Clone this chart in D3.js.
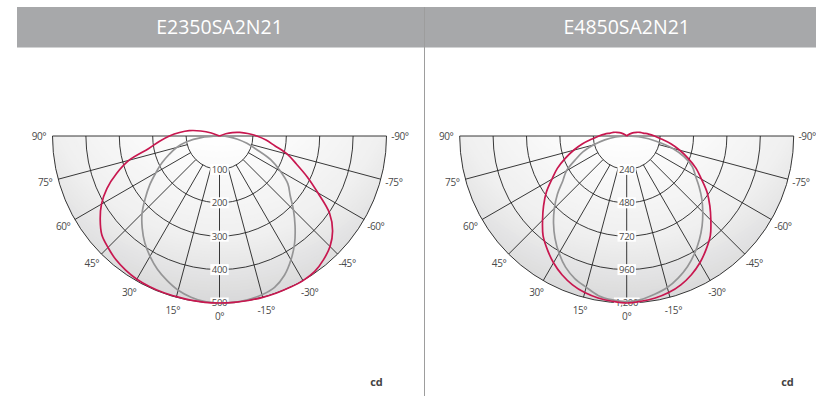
<!DOCTYPE html>
<html>
<head>
<meta charset="utf-8">
<script src="https://cdn.jsdelivr.net/npm/d3@7"></script>
<style>
  html, body { margin: 0; padding: 0; background: #fff; }
  svg { display: block; }
</style>
</head>
<body>
<svg id="chart" width="816" height="396"></svg>
<script>
// ---- Panel titles and axis labels ----
const titles = ["E2350SA2N21", "E4850SA2N21"];
const angleTicks = [90, 75, 60, 45, 30, 15, 0, -15, -30, -45, -60, -75, -90];
const ticks1 = [100, 200, 300, 400, 500];
const tickLabels1 = ["100", "200", "300", "400", "500"];
const ticks2 = [240, 480, 720, 960, 1200];
const tickLabels2 = ["240", "480", "720", "960", "1,200"];
const unitLabel = "cd";

// ---- Luminous intensity (cd) by angle from nadir, degrees ----
// Panel 1: E2350SA2N21
const angles1 = [0, 5, 10, 15, 20, 25, 30, 35, 40, 45, 50, 55, 60, 65, 70, 75, 80, 85, 90, 95, 100, 105, 110, 115, 120];
const crimsonLeft1  = [500, 500, 499, 498, 498, 497, 495, 490, 483, 472, 460, 436, 408, 372, 328, 280, 215, 180, 150, 120, 92, 58, 26, 0, 0];
const crimsonRight1 = [500, 500, 500, 500, 500, 500, 500, 496, 484, 468, 442, 402, 340, 290, 245, 210, 168, 140, 112, 85, 62, 40, 20, 0, 0];
const greyLeft1     = [500, 498, 490, 478, 460, 440, 416, 390, 360, 328, 290, 255, 220, 190, 160, 133, 100, 55, 0];
const greyRight1    = [500, 500, 497, 492, 482, 460, 428, 392, 352, 313, 276, 250, 210, 170, 118, 85, 55, 28, 0];

// Panel 2: E4850SA2N21
const angles2 = [0, 5, 10, 15, 20, 25, 30, 35, 40, 45, 50, 55, 60, 65, 70, 75, 80, 85, 90, 95, 100, 105, 110, 115, 120, 125, 130];
const crimsonLeft2  = [1200, 1192, 1182, 1165, 1138, 1100, 1052, 995, 935, 855, 780, 705, 620, 550, 470, 395, 322, 250, 200, 158, 120, 100, 78, 58, 38, 18, 0];
const crimsonRight2 = [1200, 1192, 1182, 1165, 1138, 1100, 1052, 995, 935, 855, 780, 705, 620, 550, 470, 395, 322, 250, 200, 158, 120, 100, 78, 58, 38, 18, 0];
const greyLeft2     = [1190, 1182, 1165, 1125, 1090, 1040, 972, 898, 818, 735, 650, 560, 500, 410, 335, 245, 160, 80, 0];
const greyRight2    = [1190, 1180, 1155, 1127, 1085, 1035, 975, 910, 843, 773, 705, 635, 570, 520, 440, 340, 215, 105, 0];

const CRIMSON = "#c8174f";
const GREY = "#959596";
const GRID = "#222";
const LABEL = "#4a4a4a";

const svg = d3.select("#chart");
const defs = svg.append("defs");

// Header bars
svg.append("rect").attr("x", 17).attr("y", 7).attr("width", 407).attr("height", 40).attr("fill", "#a7a8aa");
svg.append("rect").attr("x", 425).attr("y", 7).attr("width", 391).attr("height", 40).attr("fill", "#a7a8aa");
svg.append("line").attr("x1", 17).attr("x2", 816).attr("y1", 47.5).attr("y2", 47.5)
  .attr("stroke", "#d2d3d4").attr("stroke-width", 1);
// Divider between the panels
svg.append("line").attr("x1", 424.5).attr("x2", 424.5).attr("y1", 7).attr("y2", 396)
  .attr("stroke", "#9d9d9d").attr("stroke-width", 1);

const panels = [
  { title: titles[0], cx: 219.5, cy: 136, R: 167, max: 500, ticks: ticks1, tickLabels: tickLabels1,
    angles: angles1, series: [
      { left: greyLeft1, right: greyRight1, color: GREY },
      { left: crimsonLeft1, right: crimsonRight1, color: CRIMSON }
    ], unitX: 376.5 },
  { title: titles[1], cx: 626.7, cy: 136, R: 167, max: 1200, ticks: ticks2, tickLabels: tickLabels2,
    angles: angles2, series: [
      { left: greyLeft2, right: greyRight2, color: GREY },
      { left: crimsonLeft2, right: crimsonRight2, color: CRIMSON }
    ], unitX: 787.5 }
];

const rad = d => d * Math.PI / 180;
// shading: lit from above the diameter, greying toward the lower rim
const lightOffset = 0.45;   // light centre above the pole, in radii
const shade = d3.scaleLinear().domain([0, 0.31, 0.756, 1]).range(["#ffffff", "#ffffff", "#efefef", "#d9d9da"]).clamp(true);

panels.forEach((p, i) => {
  // title
  svg.append("text")
    .attr("x", p.cx).attr("y", 33.5)
    .attr("text-anchor", "middle")
    .attr("font-family", "'Open Sans', 'Noto Sans', sans-serif")
    .attr("font-size", 19.5)
    .attr("font-weight", 500)
    .attr("fill", "#fff")
    .text(p.title);

  const g = svg.append("g").attr("transform", `translate(${p.cx},${p.cy})`);
  const r = d3.scaleLinear().domain([0, p.max]).range([0, p.R]);

  // shaded half disc: nested circles clipped to the lower half
  const halfDisc = d3.arc().innerRadius(0).outerRadius(p.R)
    .startAngle(Math.PI / 2).endAngle(3 * Math.PI / 2);
  const clipId = "half" + i;
  defs.append("clipPath").attr("id", clipId)
    .append("path").attr("d", halfDisc())
    .attr("transform", `translate(${p.cx},${p.cy})`);
  const maxD = (1 + lightOffset) * p.R;
  const steps = d3.range(80, 0, -1).map(k => k / 80);
  svg.insert("g", "g")
    .attr("clip-path", `url(#${clipId})`)
    .selectAll("circle").data(steps).join("circle")
    .attr("cx", p.cx).attr("cy", p.cy - lightOffset * p.R)
    .attr("r", f => f * maxD)
    .attr("fill", f => shade(f));

  // concentric arcs
  p.ticks.forEach(t => {
    const path = d3.path();
    path.arc(0, 0, r(t), 0, Math.PI);
    g.append("path").attr("d", path.toString()).attr("fill", "none")
      .attr("stroke", GRID).attr("stroke-width", 0.9);
  });

  // radial spokes from the first ring to the rim
  const r0 = r(p.ticks[0]);
  angleTicks.filter(a => Math.abs(a) !== 90).forEach(a => {
    const th = rad(a);
    g.append("line")
      .attr("x1", -r0 * Math.sin(th)).attr("y1", r0 * Math.cos(th))
      .attr("x2", -p.R * Math.sin(th)).attr("y2", p.R * Math.cos(th))
      .attr("stroke", GRID).attr("stroke-width", 0.9);
  });
  // horizontal diameter (±90°)
  g.append("line").attr("x1", -p.R).attr("x2", p.R).attr("y1", 0).attr("y2", 0)
    .attr("stroke", GRID).attr("stroke-width", 0.9);

  // value labels on the 0° axis
  p.ticks.forEach((t, k) => {
    const lg = g.append("g").attr("transform", `translate(0,${r(t)})`);
    const txt = lg.append("text")
      .attr("text-anchor", "middle").attr("dy", "0.35em")
      .attr("font-family", "'Open Sans', 'Noto Sans', sans-serif")
      .attr("font-size", 9.5).attr("letter-spacing", -0.3)
      .attr("fill", LABEL).text(p.tickLabels[k]);
    const bb = txt.node().getBBox();
    lg.insert("rect", "text")
      .attr("x", bb.x - 1.5).attr("y", -5.5)
      .attr("width", bb.width + 3).attr("height", 11)
      .attr("fill", "#fff");
  });

  // angle labels around the rim
  angleTicks.forEach(a => {
    const th = rad(a);
    const rr = p.R + 13.5;
    g.append("text")
      .attr("x", -rr * Math.sin(th)).attr("y", rr * Math.cos(th))
      .attr("text-anchor", "middle").attr("dy", "0.35em")
      .attr("font-family", "'Open Sans', 'Noto Sans', sans-serif")
      .attr("font-size", 10).attr("letter-spacing", -0.4)
      .attr("fill", LABEL).text(a + "°");
  });

  // intensity curves
  const line = d3.lineRadial()
    .angle(d => d[0]).radius(d => r(d[1]))
    .curve(d3.curveCatmullRom.alpha(0.5));
  const cut = arr => {
    const idx = arr.indexOf(0);
    return idx < 0 ? arr.length : idx + 1;
  };
  p.series.forEach(s => {
    const pts = [];
    const nl = cut(s.left);
    for (let k = nl - 1; k >= 0; k--) pts.push([Math.PI + rad(p.angles[k]), s.left[k]]);
    const nr = cut(s.right);
    for (let k = 1; k < nr; k++) pts.push([Math.PI - rad(p.angles[k]), s.right[k]]);
    g.append("path").attr("d", line(pts)).attr("fill", "none")
      .attr("stroke", s.color).attr("stroke-width", 1.7)
      .attr("stroke-linejoin", "round");
  });

  // unit
  svg.append("text")
    .attr("x", p.unitX).attr("y", 386)
    .attr("text-anchor", "middle")
    .attr("font-family", "'Open Sans', 'Noto Sans', sans-serif")
    .attr("font-size", 11).attr("font-weight", 700)
    .attr("fill", "#444").text(unitLabel);
});
</script>
</body>
</html>
